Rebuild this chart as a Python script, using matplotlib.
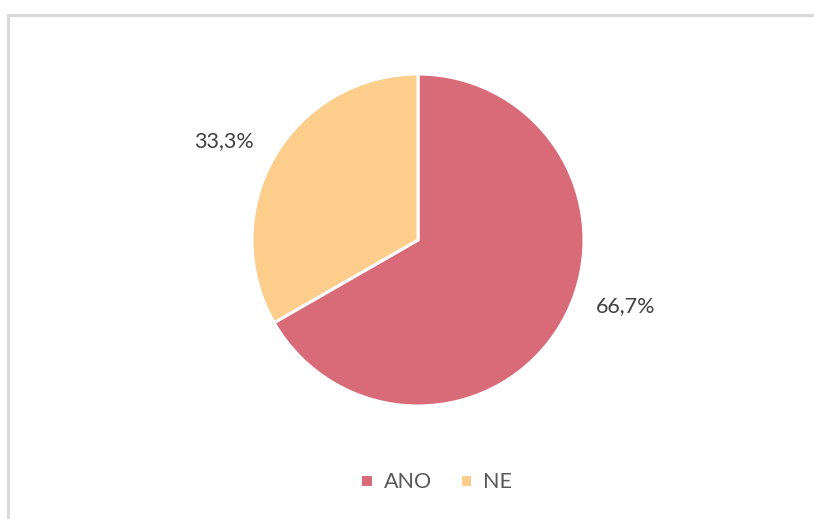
import matplotlib
matplotlib.use("Agg")
import matplotlib.pyplot as plt
from matplotlib.patches import Rectangle
import numpy as np

categories = ["ANO", "NE"]
values = [66.7, 33.3]
labels_txt = ["66,7%", "33,3%"]
colors = ["#D96B78", "#FDCD8C"]

plt.rcParams['font.family'] = ['Lato', 'DejaVu Sans']

W, H = 814, 519
fig = plt.figure(figsize=(W / 100, H / 100), dpi=100)

# chart border (light gray frame, extends beyond right/bottom)
fig.patches.append(Rectangle((7.5 / W, -0.1), 1.2, (H - 14.5) / H + 0.1,
                             transform=fig.transFigure, fill=False,
                             edgecolor="#D9D9D9", linewidth=2.2))

cx, cy, r = 418, 240, 166
ax = fig.add_axes([(cx - r) / W, (H - cy - r) / H, 2 * r / W, 2 * r / H])
wedges, _ = ax.pie(values, colors=colors, startangle=90, counterclock=False,
                   radius=1, wedgeprops=dict(edgecolor="white", linewidth=2.2))
ax.set_xlim(-1, 1)
ax.set_ylim(-1, 1)
ax.set_aspect("auto")
ax.axis("off")

# data labels (best-fit style placement)
label_angles = [-17.6, 153.0]
for txt, ang in zip(labels_txt, label_angles):
    a = np.deg2rad(ang)
    ax.text(1.31 * np.cos(a), 1.31 * np.sin(a), txt, ha="center", va="center",
            fontsize=15.5, color="#404040")

leg = fig.legend(wedges, categories, loc="center", bbox_to_anchor=(436 / W, 1 - 482 / H),
                 ncol=2, frameon=False, fontsize=15.5, handlelength=0.6,
                 handleheight=0.6, handletextpad=0.5, columnspacing=1.3)
for t in leg.get_texts():
    t.set_color("#595959")

fig.savefig("out.png", dpi=100, facecolor="white")
